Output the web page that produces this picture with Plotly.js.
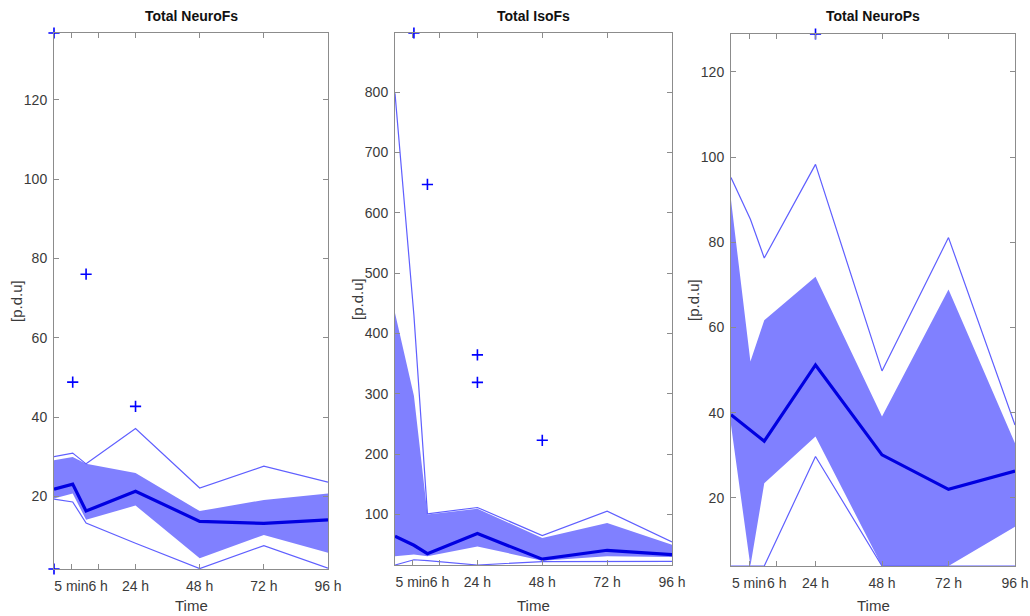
<!DOCTYPE html>
<html>
<head>
<meta charset="utf-8">
<script src="https://cdn.plot.ly/plotly-3.0.1.min.js"></script>
<style>html,body{margin:0;padding:0;background:#fff;}#chart{width:1030px;height:616px;}</style>
</head>
<body>
<div id="chart"></div>
<script>
// Shared time axis (sample positions, hours-like units)
const timePoints = [-6.5, 0.5, 5.5, 24, 48, 72, 96];
const tickPositions = [0, 10, 24, 48, 72, 96];
const tickLabels = ['5 min', '6 h', '24 h', '48 h', '72 h', '96 h'];

// Panel 1: Total NeuroFs
const neuroFsUpper  = [30.0, 30.9, 28.2, 37.1, 22.1, 27.6, 23.6];
const neuroFsQ3     = [29.1, 29.9, 28.2, 25.9, 16.3, 19.1, 20.7];
const neuroFsMedian = [21.8, 23.1, 16.3, 21.3, 13.7, 13.2, 14.1];
const neuroFsQ1     = [19.5, 20.7, 14.1, 17.7, 4.4, 10.3, 5.8];
const neuroFsLower  = [19.3, 18.6, 13.3, 8.2, 1.8, 7.6, 1.9];
const neuroFsOutX   = [-6.5, -6.5, 0.5, 5.5, 24];
const neuroFsOutY   = [136.8, 1.7, 48.8, 76.0, 42.7];
const neuroFsRange  = [1.7, 136.8];
const neuroFsTicks  = [20, 40, 60, 80, 100, 120];

// Panel 2: Total IsoFs
const isoFsUpper  = [798, 430, 101, 111.6, 65, 105.5, 54.5];
const isoFsQ3     = [434, 297, 100, 109.4, 61, 86, 50];
const isoFsMedian = [64, 49, 35, 68.4, 26, 40.7, 33.5];
const isoFsQ1     = [31, 33.5, 31, 47, 23.5, 31, 29.6];
const isoFsLower  = [16.3, 25, 23.5, 16.3, 22, 22.4, 22.4];
const isoFsOutX   = [0.5, 5.5, 24, 24, 48];
const isoFsOutY   = [898, 647, 364.6, 319, 223];
const isoFsRange  = [16.3, 898];
const isoFsTicks  = [100, 200, 300, 400, 500, 600, 700, 800];

// Panel 3: Total NeuroPs
const neuroPsUpper  = [95.2, 85.4, 76.3, 98.3, 49.8, 81.1, 37.1];
const neuroPsQ3     = [89.9, 52, 61.7, 71.9, 39.1, 68.9, 32.8];
const neuroPsMedian = [39.5, 36, 33.3, 51.2, 30.1, 22, 26.3];
const neuroPsQ1     = [37.1, 4, 23.4, 34.4, 4, 4, 13.2];
const neuroPsLower  = [4, 4, 4, 29.7, 4, 4, 4];
const neuroPsOutX   = [24];
const neuroPsOutY   = [128.9];
const neuroPsRange  = [4, 128.9];
const neuroPsTicks  = [20, 40, 60, 80, 100, 120];

const panelTitles = ['Total NeuroFs', 'Total IsoFs', 'Total NeuroPs'];
const yLabel = '[p.d.u]';
const xLabel = 'Time';

const FILL = 'rgb(128,128,255)';
const THIN = 'rgb(95,95,255)';
const MED = 'rgb(0,0,225)';
const MARK = 'rgb(0,0,255)';
const FAMILY = 'Arial, Liberation Sans, sans-serif';

function panelTraces(n, upper, q3, med, q1, lower, outX, outY) {
  const xa = n === 1 ? 'x' : 'x' + n;
  const ya = n === 1 ? 'y' : 'y' + n;
  return [
    {x: timePoints, y: q3, xaxis: xa, yaxis: ya, mode: 'lines', line: {width: 0, color: FILL}, hoverinfo: 'skip', showlegend: false},
    {x: timePoints, y: q1, xaxis: xa, yaxis: ya, mode: 'lines', line: {width: 0, color: FILL}, fill: 'tonexty', fillcolor: FILL, hoverinfo: 'skip', showlegend: false},
    {x: timePoints, y: upper, xaxis: xa, yaxis: ya, mode: 'lines', line: {width: 1.2, color: THIN}, showlegend: false},
    {x: timePoints, y: lower, xaxis: xa, yaxis: ya, mode: 'lines', line: {width: 1.2, color: THIN}, showlegend: false},
    {x: timePoints, y: med, xaxis: xa, yaxis: ya, mode: 'lines', line: {width: 3.2, color: MED}, showlegend: false},
    {x: outX, y: outY, xaxis: xa, yaxis: ya, mode: 'markers', cliponaxis: false,
     marker: {symbol: 'cross-thin', size: 8, line: {width: 1.6, color: MARK}, color: MARK}, showlegend: false}
  ];
}

const data = [].concat(
  panelTraces(1, neuroFsUpper, neuroFsQ3, neuroFsMedian, neuroFsQ1, neuroFsLower, neuroFsOutX, neuroFsOutY),
  panelTraces(2, isoFsUpper, isoFsQ3, isoFsMedian, isoFsQ1, isoFsLower, isoFsOutX, isoFsOutY),
  panelTraces(3, neuroPsUpper, neuroPsQ3, neuroPsMedian, neuroPsQ1, neuroPsLower, neuroPsOutX, neuroPsOutY)
);

const W = 1030, H = 616;
const tickFont = {family: FAMILY, size: 14, color: '#3a3a3a'};
const boxes = [
  {l: 54, r: 328, t: 33, b: 569},
  {l: 395, r: 672, t: 33, b: 565},
  {l: 731, r: 1015, t: 34, b: 566}
];
const yRanges = [neuroFsRange, isoFsRange, neuroPsRange];
const yTicks = [neuroFsTicks, isoFsTicks, neuroPsTicks];

const layout = {
  width: W, height: H,
  margin: {l: 0, r: 0, t: 0, b: 0},
  paper_bgcolor: '#fff', plot_bgcolor: '#fff',
  font: tickFont,
  showlegend: false,
  annotations: []
};

boxes.forEach((b, i) => {
  const n = i + 1;
  const xk = n === 1 ? 'xaxis' : 'xaxis' + n;
  const yk = n === 1 ? 'yaxis' : 'yaxis' + n;
  const common = {
    showline: true, linecolor: '#8c8c8c', linewidth: 1, mirror: 'ticks',
    ticks: 'inside', ticklen: 5, tickcolor: '#8c8c8c', tickwidth: 1,
    showgrid: false, zeroline: false, tickfont: tickFont, fixedrange: true
  };
  layout[xk] = Object.assign({}, common, {
    domain: [b.l / W, b.r / W], anchor: n === 1 ? 'y' : 'y' + n,
    range: [timePoints[0], timePoints[timePoints.length - 1]],
    tickmode: 'array', tickvals: tickPositions, ticktext: tickLabels, tickangle: 0,
    ticklabelstandoff: 4
  });
  layout[yk] = Object.assign({}, common, {
    domain: [1 - b.b / H, 1 - b.t / H], anchor: n === 1 ? 'x' : 'x' + n,
    range: yRanges[i], tickmode: 'array', tickvals: yTicks[i], ticktext: yTicks[i].map(String),
    ticklabelstandoff: 3
  });
  const cx = (b.l + b.r) / 2 / W;
  layout.annotations.push({
    text: '<b>' + panelTitles[i] + '</b>', xref: 'paper', yref: 'paper',
    x: cx, y: 1 - 16 / H, xanchor: 'center', yanchor: 'middle', showarrow: false,
    font: {family: FAMILY, size: 14, color: '#111'}
  });
  layout.annotations.push({
    text: xLabel, xref: 'paper', yref: 'paper',
    x: cx, y: 1 - 605 / H, xanchor: 'center', yanchor: 'middle', showarrow: false,
    font: {family: FAMILY, size: 15, color: '#3a3a3a'}
  });
  layout.annotations.push({
    text: yLabel, xref: 'paper', yref: 'paper', textangle: -90,
    x: (b.l - 38) / W, y: 1 - ((b.t + b.b) / 2) / H, xanchor: 'center', yanchor: 'middle', showarrow: false,
    font: {family: FAMILY, size: 15, color: '#3a3a3a'}
  });
});

Plotly.newPlot('chart', data, layout, {displayModeBar: false, staticPlot: true});
</script>
</body>
</html>
